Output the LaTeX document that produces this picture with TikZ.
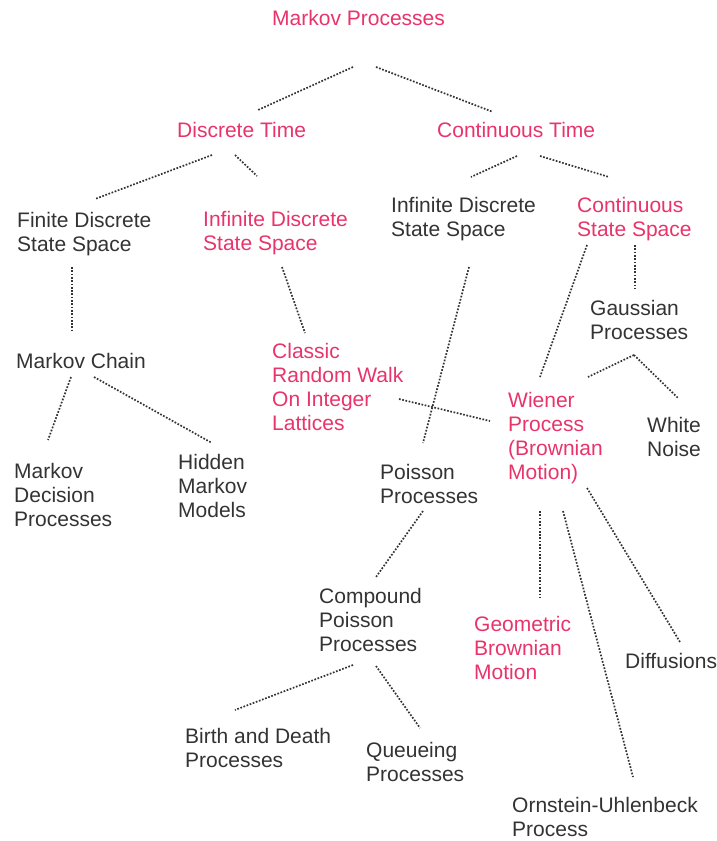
\documentclass[tikz,border=0pt]{standalone}
\usepackage{fontspec}
\setmainfont{Liberation Sans}
\usetikzlibrary{calc}
\definecolor{mkred}{HTML}{E8336B}
\definecolor{mkgray}{HTML}{333333}
\tikzset{
    treenode/.style={align=left, inner sep=0pt, anchor=north west, font=\fontsize{21}{24}\selectfont},
    % Highlighted Node
    node_red/.style = {treenode, text=mkred},
    % Plain Node
    node_blk/.style = {treenode, text=mkgray},
    % Dotted Link
    link/.style = {mkgray, line width=1.7pt, dash pattern=on 1.7pt off 1.6pt}
}

\begin{document}
\begin{tikzpicture}[x=1pt, y=-1pt]
    \useasboundingbox (0,0) rectangle (717,841);

    % top levels
    \node[node_red] (mp) at (272,10) {Markov Processes};
    \node[node_red] (dt) at (177,122) {Discrete Time};
    \node[node_red] (ct) at (437,122) {Continuous Time};

    % state spaces
    \node[node_blk] (fdss) at (17,212) {Finite Discrete\\State Space};
    \node[node_red] (idsd) at (203,211) {Infinite Discrete\\State Space};
    \node[node_blk] (idsc) at (391,197) {Infinite Discrete\\State Space};
    \node[node_red] (css) at (577,197) {Continuous\\State Space};

    % processes
    \node[node_blk] (gauss) at (590,300) {Gaussian\\Processes};
    \node[node_blk] (mc) at (16,353) {Markov Chain};
    \node[node_red] (crw) at (272,343) {Classic\\Random Walk\\On Integer\\Lattices};
    \node[node_red] (wiener) at (508,392) {Wiener\\Process\\(Brownian\\Motion)};
    \node[node_blk] (white) at (647,417) {White\\Noise};
    \node[node_blk] (mdp) at (14,463) {Markov\\Decision\\Processes};
    \node[node_blk] (hmm) at (178,454) {Hidden\\Markov\\Models};
    \node[node_blk] (poisson) at (380,464) {Poisson\\Processes};
    \node[node_blk] (cpp) at (319,588) {Compound\\Poisson\\Processes};
    \node[node_red] (gbm) at (474,616) {Geometric\\Brownian\\Motion};
    \node[node_blk] (diff) at (625,653) {Diffusions};
    \node[node_blk] (bd) at (185,728) {Birth and Death\\Processes};
    \node[node_blk] (queue) at (366,742) {Queueing\\Processes};
    \node[node_blk] (ou) at (512,797) {Ornstein-Uhlenbeck\\Process};

    % links
    \draw[link] ($(mp.north west)+(81,57)$) -- ($(dt.north west)+(81,-12)$);
    \draw[link] ($(mp.north west)+(104,57)$) -- ($(ct.north west)+(56,-10)$);
    \draw[link] ($(dt.north west)+(35,33)$) -- ($(fdss.north west)+(78,-13)$);
    \draw[link] ($(dt.north west)+(58,33)$) -- ($(idsd.north west)+(54,-35)$);
    \draw[link] ($(ct.north west)+(80,34)$) -- ($(idsc.north west)+(80,-20)$);
    \draw[link] ($(ct.north west)+(103,34)$) -- ($(css.north west)+(32,-20)$);
    \draw[link] ($(fdss.north west)+(55,55)$) -- ($(mc.north west)+(56,-21)$);
    \draw[link] ($(idsd.north west)+(79,56)$) -- ($(crw.north west)+(33,-10)$);
    \draw[link] ($(idsc.north west)+(78,70)$) -- ($(poisson.north west)+(43,-21)$);
    \draw[link] ($(css.north west)+(10,48)$) -- ($(wiener.north west)+(32,-15)$);
    \draw[link] ($(css.north west)+(58,48)$) -- ($(gauss.north west)+(45,-12)$);
    \draw[link] ($(gauss.north west)+(44,55)$) -- ($(wiener.north west)+(80,-15)$);
    \draw[link] ($(gauss.north west)+(44,55)$) -- ($(white.north west)+(31,-19)$);
    \draw[link] ($(crw.north west)+(127,56)$) -- ($(wiener.north west)+(-18,29)$);
    \draw[link] ($(mc.north west)+(55,24)$) -- ($(mdp.north west)+(34,-23)$);
    \draw[link] ($(mc.north west)+(78,24)$) -- ($(hmm.north west)+(34,-11)$);
    \draw[link] ($(poisson.north west)+(43,47)$) -- ($(cpp.north west)+(57,-11)$);
    \draw[link] ($(cpp.north west)+(34,77)$) -- ($(bd.north west)+(50,-18)$);
    \draw[link] ($(cpp.north west)+(57,78)$) -- ($(queue.north west)+(54,-14)$);
    \draw[link] ($(wiener.north west)+(32,119)$) -- ($(gbm.north west)+(66,-18)$);
    \draw[link] ($(wiener.north west)+(55,119)$) -- ($(ou.north west)+(121,-20)$);
    \draw[link] ($(wiener.north west)+(79,96)$) -- ($(diff.north west)+(55,-11)$);
\end{tikzpicture}
\end{document}
